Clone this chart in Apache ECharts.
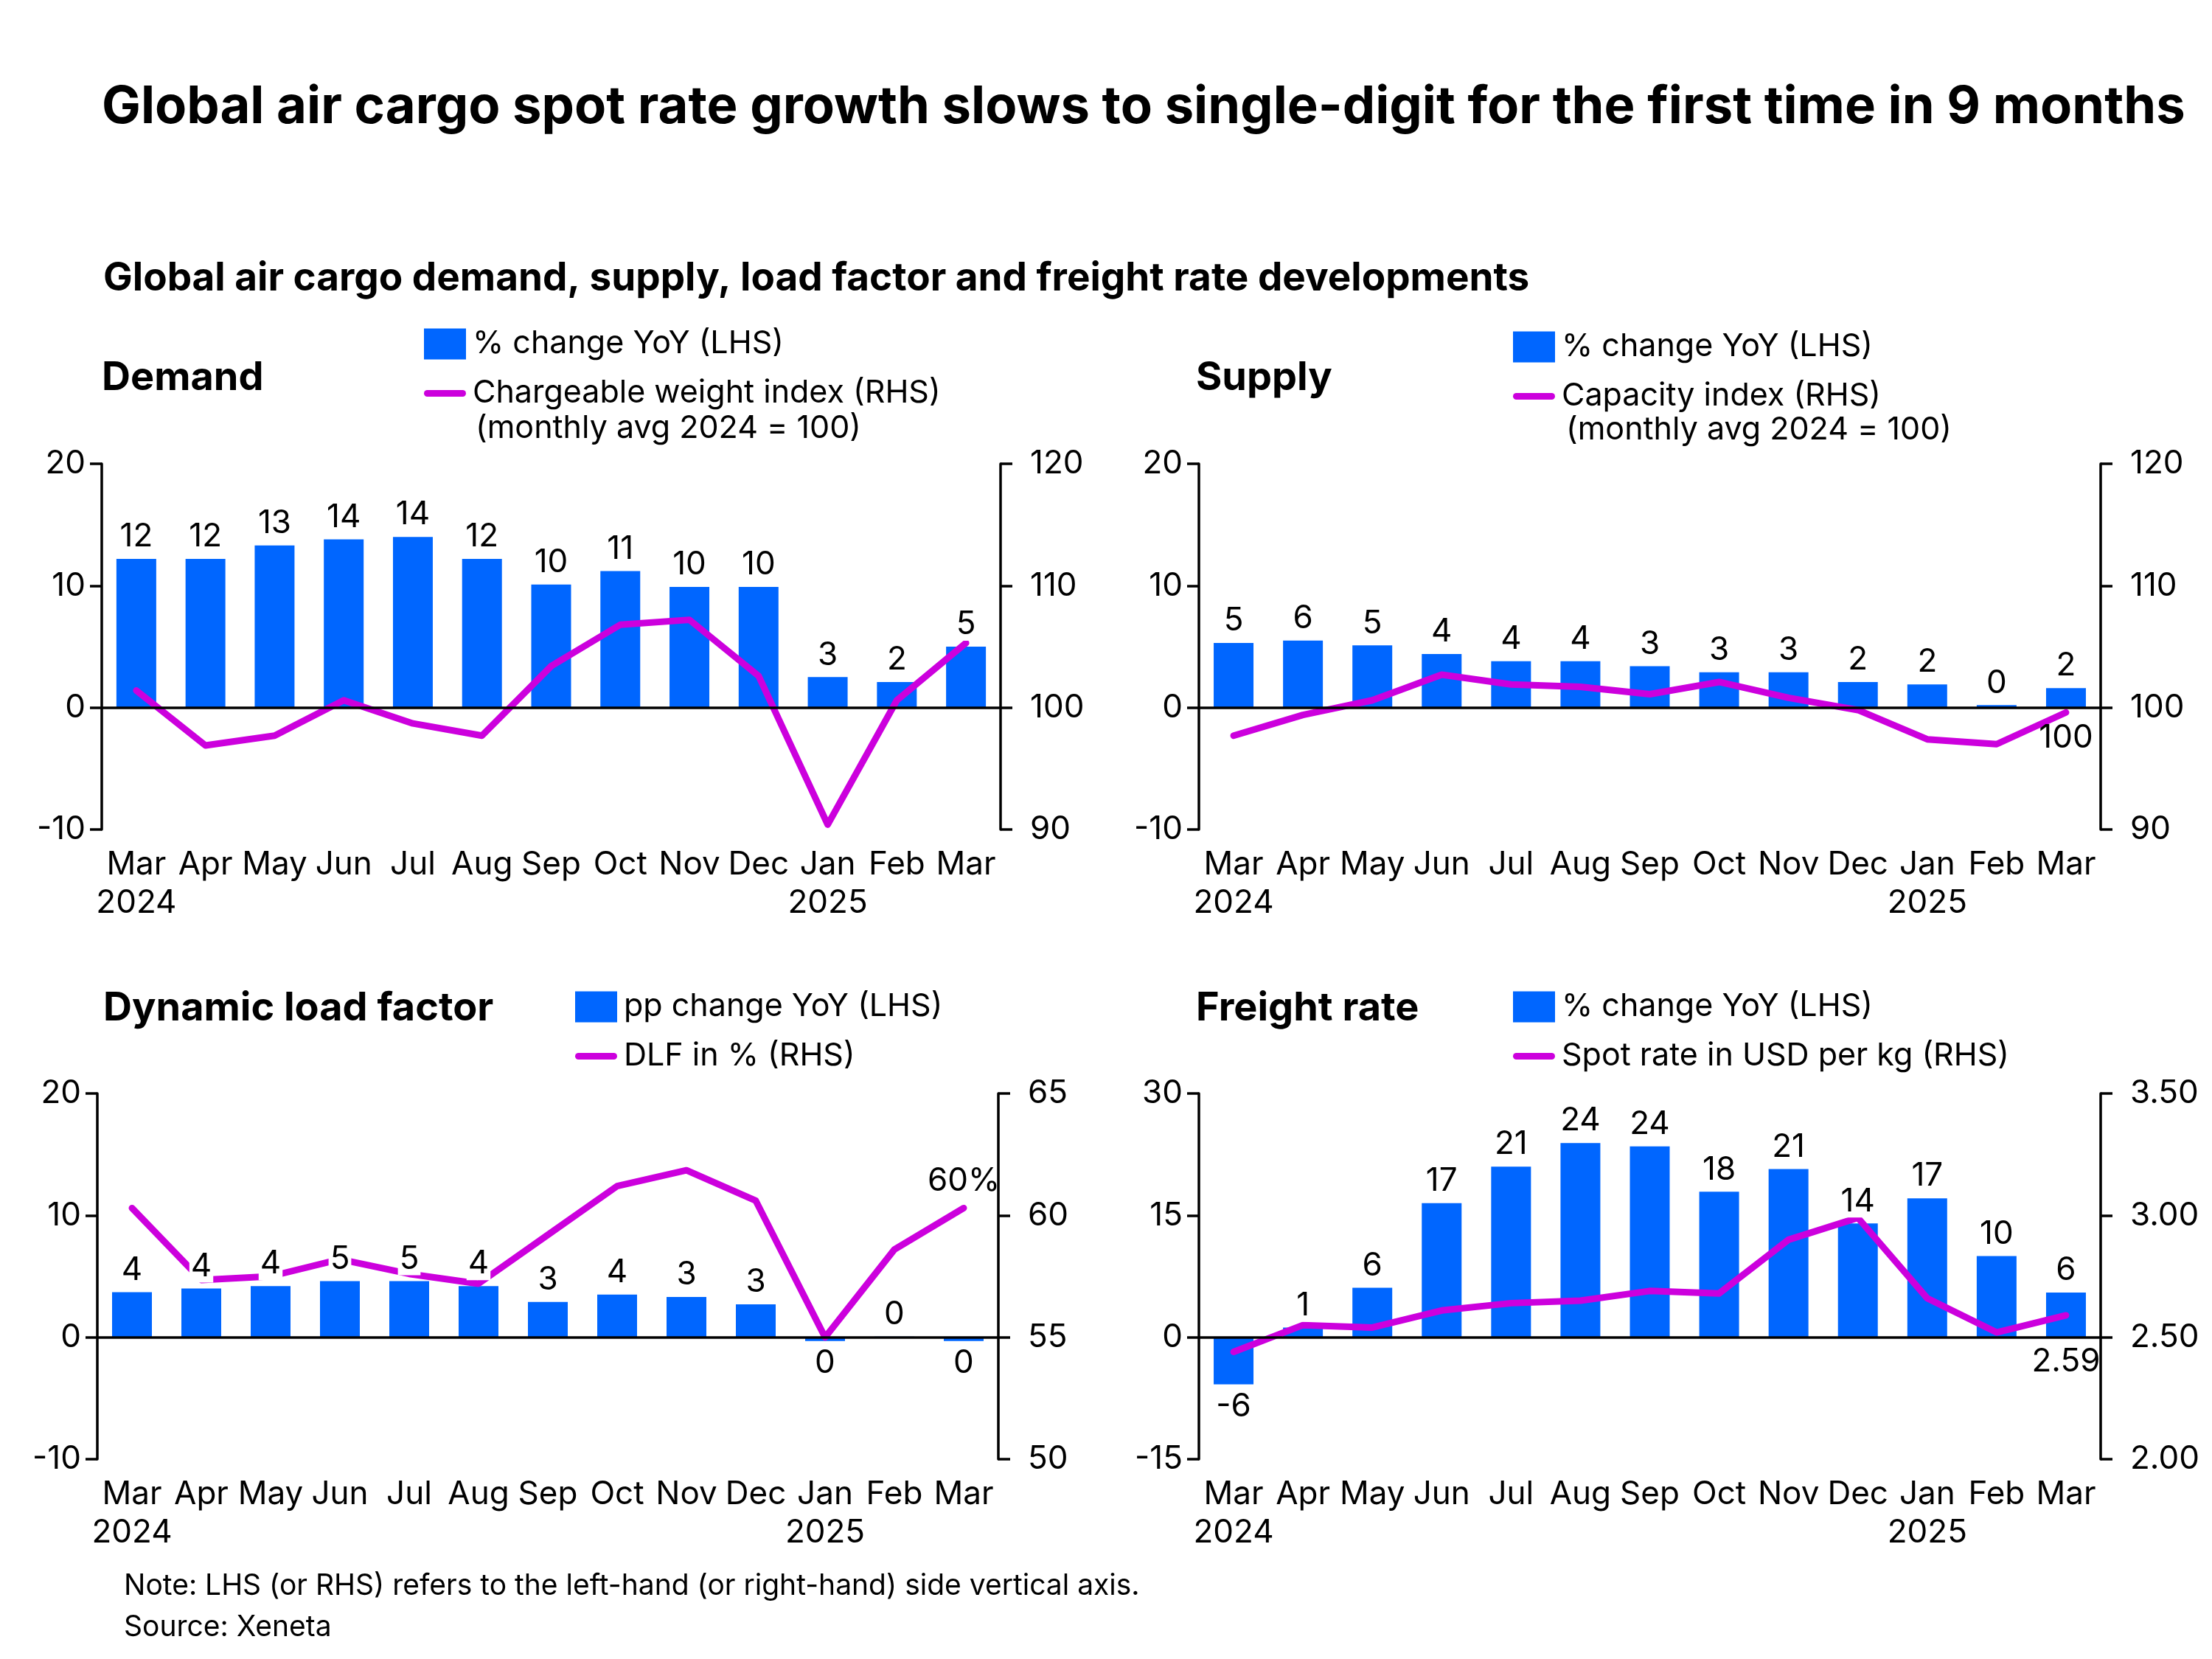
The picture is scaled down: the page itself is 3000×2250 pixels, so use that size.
<!DOCTYPE html>
<html>
<head>
<meta charset="UTF-8">
<title>Global air cargo</title>
<script src="https://cdn.jsdelivr.net/npm/echarts@6/dist/echarts.min.js"></script>
<style>
  html, body { margin: 0; padding: 0; background: #fff; }
  #main { width: 3000px; height: 2250px; }
</style>
</head>
<body>
<div id="main"></div>
<script>
// months shared by all four panels
var months = ['Mar\n2024', 'Apr', 'May', 'Jun', 'Jul', 'Aug', 'Sep', 'Oct', 'Nov', 'Dec', 'Jan\n2025', 'Feb', 'Mar'];

// demand
var demandYoY = [12.2, 12.2, 13.3, 13.8, 14.0, 12.2, 10.1, 11.2, 9.9, 9.9, 2.5, 2.1, 5.0];
var demandIndex = [101.4, 96.9, 97.7, 100.6, 98.7, 97.7, 103.4, 106.8, 107.2, 102.6, 90.4, 100.6, 105.3];

// supply
var supplyYoY = [5.3, 5.5, 5.1, 4.4, 3.8, 3.8, 3.4, 2.9, 2.9, 2.1, 1.9, 0.2, 1.6];
var supplyIndex = [97.7, 99.4, 100.6, 102.7, 101.9, 101.7, 101.1, 102.1, 100.8, 99.8, 97.4, 97.0, 99.6];

// dynamic load factor
var dlfChange = [3.7, 4.0, 4.2, 4.6, 4.6, 4.2, 2.9, 3.5, 3.3, 2.7, -0.3, 0.05, -0.3];
var dlfValue = [60.3, 57.35, 57.5, 58.2, 57.6, 57.2, 59.2, 61.2, 61.85, 60.6, 55.0, 58.6, 60.3];

// freight rate
var rateYoY = [-5.8, 1.2, 6.1, 16.5, 21.0, 23.9, 23.5, 17.9, 20.7, 14.0, 17.1, 10.0, 5.5];
var rateSpot = [2.44, 2.55, 2.54, 2.61, 2.64, 2.65, 2.69, 2.68, 2.90, 2.99, 2.66, 2.52, 2.59];

var BLUE = '#0066ff';
var MAGENTA = '#cc00dd';
var FONT = 'Inter';
var lineIcon = 'path://M4.5,0 L52.5,0 A4.5,4.5 0 0 1 52.5,9 L4.5,9 A4.5,4.5 0 0 1 4.5,0 Z';

var myChart = echarts.init(document.getElementById('main'));

var grids = [
  { left: 138, right: 1643, top: 629, bottom: 1125 },
  { left: 1626, right: 151, top: 629, bottom: 1125 },
  { left: 132, right: 1646, top: 1483, bottom: 271 },
  { left: 1626, right: 151, top: 1483, bottom: 271 }
];

var leftAxes = [
  { min: -10, max: 20, interval: 10 },
  { min: -10, max: 20, interval: 10 },
  { min: -10, max: 20, interval: 10 },
  { min: -15, max: 30, interval: 15 }
];
var rightAxes = [
  { min: 90, max: 120, interval: 10 },
  { min: 90, max: 120, interval: 10 },
  { min: 50, max: 65, interval: 5 },
  { min: 2, max: 3.5, interval: 0.5, dec: 2 }
];

var axisLineStyle = { color: '#000', width: 3.5 };

var xAxes = grids.map(function (g, i) {
  return {
    type: 'category',
    gridIndex: i,
    data: months,
    boundaryGap: true,
    axisLine: { show: false },
    axisTick: { show: false },
    axisLabel: { color: '#000', fontFamily: FONT, fontSize: 44, lineHeight: 52, margin: 22, interval: 0 }
  };
});

var yAxes = [];
grids.forEach(function (g, i) {
  var l = leftAxes[i], r = rightAxes[i];
  yAxes.push({
    type: 'value', gridIndex: i, position: 'left',
    min: l.min, max: l.max, interval: l.interval,
    splitLine: { show: false },
    axisLine: { show: true, lineStyle: axisLineStyle },
    axisTick: { show: true, length: 16, lineStyle: axisLineStyle },
    axisLabel: { color: '#000', fontFamily: FONT, fontSize: 44, margin: 22 }
  });
  yAxes.push({
    type: 'value', gridIndex: i, position: 'right',
    min: r.min, max: r.max, interval: r.interval,
    splitLine: { show: false },
    axisLine: { show: true, lineStyle: axisLineStyle },
    axisTick: { show: true, length: 16, lineStyle: axisLineStyle },
    axisLabel: {
      color: '#000', fontFamily: FONT, fontSize: 44, margin: 40,
      formatter: function (v) { return r.dec ? v.toFixed(r.dec) : String(v); }
    }
  });
});

var barName = ['% change YoY (LHS)', '% change YoY (LHS)', 'pp change YoY (LHS)', '% change YoY (LHS)'];
var lineName = ['Chargeable weight index (RHS)', 'Capacity index (RHS)', 'DLF in % (RHS)', 'Spot rate in USD per kg (RHS)'];
var barData = [demandYoY, supplyYoY, dlfChange, rateYoY];
var lineData = [demandIndex, supplyIndex, dlfValue, rateSpot];
// label of the last line point
var endLabel = [
  null,
  { position: 'bottom', distance: 12, text: '100' },
  { position: 'top', distance: 14, text: '60%' },
  { position: 'bottom', distance: 40, text: '2.59' }
];

var series = [];
grids.forEach(function (g, i) {
  series.push({
    name: barName[i],
    type: 'bar',
    xAxisIndex: i, yAxisIndex: i * 2,
    data: barData[i],
    barWidth: 54,
    itemStyle: { color: BLUE },
    z: 2,
    markLine: {
      silent: true, symbol: 'none', label: { show: false },
      lineStyle: { color: '#000', width: 3.5, type: 'solid' },
      data: [{ yAxis: 0 }]
    }
  });
  var ld = lineData[i].map(function (v, k) {
    if (k === lineData[i].length - 1 && endLabel[i]) {
      var e = endLabel[i];
      return {
        value: v,
        label: {
          show: true, position: e.position, distance: e.distance,
          formatter: e.text, color: '#000', fontFamily: FONT, fontSize: 44
        }
      };
    }
    return v;
  });
  series.push({
    name: lineName[i],
    type: 'line',
    xAxisIndex: i, yAxisIndex: i * 2 + 1,
    data: ld,
    showSymbol: true,
    symbol: 'circle',
    symbolSize: 1,
    itemStyle: { color: MAGENTA },
    lineStyle: { color: MAGENTA, width: 9, cap: 'round', join: 'round' },
    label: { show: false },
    z: 3
  });
  // bar value labels drawn above the line
  series.push({
    name: 'labels' + i,
    type: 'bar',
    xAxisIndex: i, yAxisIndex: i * 2,
    data: barData[i],
    barWidth: 54,
    barGap: '-100%',
    itemStyle: { color: 'rgba(0,0,0,0)' },
    z: 4,
    silent: true,
    label: {
      show: true, position: 'outside', distance: 8,
      color: '#000', fontFamily: FONT, fontSize: 44,
      backgroundColor: '#fff', padding: [0, 2],
      formatter: function (p) { return String(Math.round(p.value)); }
    }
  });
});

var legendPos = [
  { left: 570, top: 440 },
  { left: 2047, top: 444 },
  { left: 775, top: 1339 },
  { left: 2047, top: 1339 }
];
var legends = legendPos.map(function (p, i) {
  return {
    left: p.left, top: p.top,
    orient: 'vertical',
    itemWidth: 57, itemHeight: 42, itemGap: 24,
    selectedMode: false,
    textStyle: { color: '#000', fontFamily: FONT, fontSize: 43, padding: [0, 0, 0, 4] },
    data: [
      { name: barName[i], icon: 'rect', itemStyle: { color: BLUE } },
      { name: lineName[i], icon: lineIcon, itemStyle: { color: MAGENTA } }
    ]
  };
});

function t(text, left, top, size, weight) {
  return {
    text: text, left: left, top: top, padding: 0,
    textStyle: { color: '#000', fontFamily: FONT, fontSize: size, fontWeight: weight || 'bold' }
  };
}

myChart.setOption({
  animation: false,
  backgroundColor: '#fff',
  title: [
    t('Global air cargo spot rate growth slows to single-digit for the first time in 9 months', 138, 110, 70.5),
    t('Global air cargo demand, supply, load factor and freight rate developments', 140, 352, 53),
    t('Demand', 138, 486, 54),
    t('Supply', 1622, 486, 54),
    t('Dynamic load factor', 140, 1341, 54),
    t('Freight rate', 1622, 1341, 54),
    t('(monthly avg 2024 = 100)', 645, 560, 43, 'normal'),
    t('(monthly avg 2024 = 100)', 2124, 562, 43, 'normal'),
    t('Note: LHS (or RHS) refers to the left-hand (or right-hand) side vertical axis.', 168, 2132, 39, 'normal'),
    t('Source: Xeneta', 168, 2188, 39, 'normal')
  ],
  legend: legends,
  grid: grids,
  xAxis: xAxes,
  yAxis: yAxes,
  series: series
});
</script>
</body>
</html>
